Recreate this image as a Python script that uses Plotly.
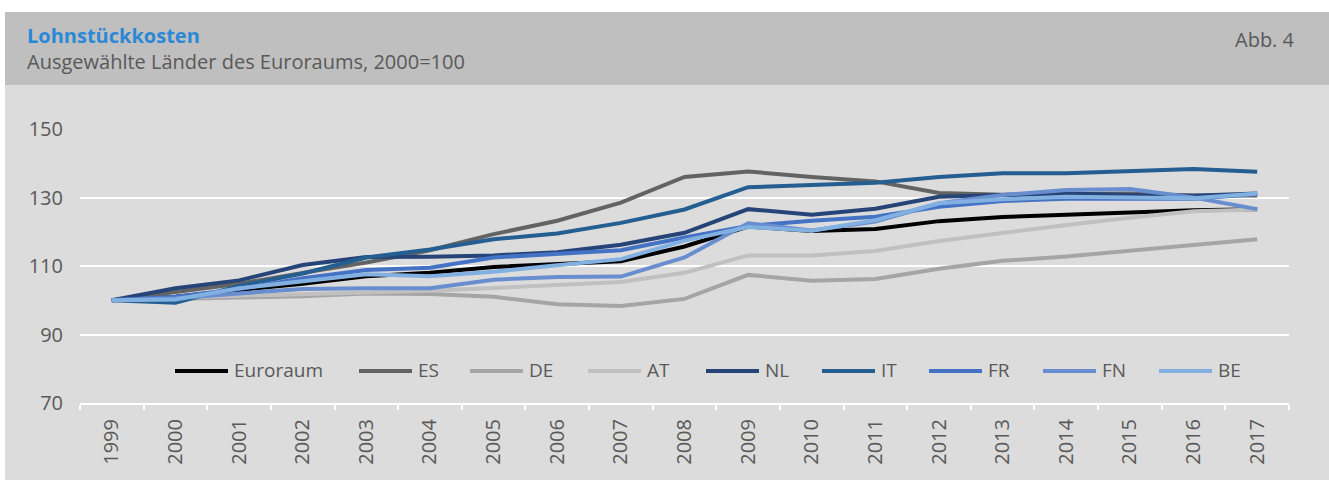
import plotly.graph_objects as go

# ---------------- data ----------------
years = ["1999", "2000", "2001", "2002", "2003", "2004", "2005", "2006", "2007", "2008",
         "2009", "2010", "2011", "2012", "2013", "2014", "2015", "2016", "2017"]

euroraum = [100, 101, 103, 104.8, 107, 108, 109.7, 110.6, 111.4, 115.7,
            121.5, 120.2, 120.8, 123.1, 124.3, 125, 125.6, 126.3, 126.6]
es = [100, 102.3, 104.8, 108, 111, 114.6, 119.3, 123.2, 128.5, 136,
      137.6, 136, 134.7, 131.3, 130.8, 131, 131.2, 130.6, 130.6]
de = [100, 100.5, 100.8, 101.2, 102, 101.8, 101, 98.8, 98.3, 100.4,
      107.4, 105.7, 106.2, 109.2, 111.5, 112.8, 114.5, 116, 117.8]
at = [100, 100.8, 101.3, 101.8, 102.5, 102.8, 103.6, 104.4, 105.3, 108,
      113.1, 113.1, 114.4, 117.3, 119.7, 122, 124.1, 126, 126.5]
nl = [100, 103.5, 105.8, 110.3, 112.6, 112.7, 113.1, 114, 116.2, 119.7,
      126.6, 125, 126.7, 130.2, 130.7, 131.2, 130.7, 130.5, 131.2]
it = [100, 99.3, 104.2, 107.8, 112.5, 114.8, 117.8, 119.5, 122.6, 126.5,
      133, 133.7, 134.3, 136, 137.1, 137.1, 137.7, 138.3, 137.5]
fr = [100, 101, 103.3, 106.4, 108.8, 109.5, 112.5, 113.5, 114.6, 118.3,
      121.7, 123.2, 124.4, 127.3, 129, 129.6, 129.6, 129.6, 131]
fn = [100, 100.6, 102, 103.3, 103.5, 103.5, 106, 106.8, 106.9, 112.5,
      122.5, 120.4, 123, 128.3, 130.7, 132.2, 132.5, 130, 126.6]
be = [100, 100.2, 103.5, 105.5, 107.6, 107, 108.3, 110.2, 112, 117.4,
      121.4, 120.3, 123.4, 128.3, 129.5, 130.2, 130, 129.8, 131.2]

series_names = ["Euroraum", "ES", "DE", "AT", "NL", "IT", "FR", "FN", "BE"]
series_values = [euroraum, es, de, at, nl, it, fr, fn, be]

title_text = "Lohnstückkosten"
subtitle_text = "Ausgewählte Länder des Euroraums, 2000=100"
fig_label = "Abb. 4"

# ---------------- styling ----------------
colors = ["#000000", "#636363", "#a5a5a5", "#c0c0c0", "#264478",
          "#255e91", "#4472c4", "#698ed0", "#82b1e1"]
legend_x_px = [175, 359, 470, 588, 706, 822, 929, 1043, 1159]
legend_y_px = 371

W, H = 1329, 480
L, R, T, B = 80, 40, 129, 77
PW = W - L - R
PH = H - T - B
FONT = "Open Sans"
TXT = "#595959"


def px_x(px):
    return (px - L) / PW


def px_y(py):
    return (H - B - py) / PH


fig = go.Figure()
for name, vals, col in zip(series_names, series_values, colors):
    fig.add_trace(go.Scatter(x=years, y=vals, mode="lines", name=name,
                             line=dict(color=col, width=4), showlegend=False))

shapes = [
    # white top strip & left strip
    dict(type="rect", xref="paper", yref="paper", x0=px_x(0), x1=px_x(W),
         y0=px_y(0), y1=px_y(12), fillcolor="white", line_width=0, layer="below"),
    dict(type="rect", xref="paper", yref="paper", x0=px_x(0), x1=px_x(5),
         y0=px_y(0), y1=px_y(H), fillcolor="white", line_width=0, layer="below"),
    # header band
    dict(type="rect", xref="paper", yref="paper", x0=px_x(5), x1=px_x(W),
         y0=px_y(12), y1=px_y(85), fillcolor="#bfbfbf", line_width=0, layer="below"),
]
annotations = [
    dict(text="<b>" + title_text + "</b>", xref="paper", yref="paper",
         x=px_x(25), y=px_y(35.5), xanchor="left", yanchor="middle", showarrow=False,
         font=dict(family=FONT, size=20, color="#2a88d6")),
    dict(text=subtitle_text, xref="paper", yref="paper",
         x=px_x(25), y=px_y(61.5), xanchor="left", yanchor="middle", showarrow=False,
         font=dict(family=FONT, size=20, color=TXT)),
    dict(text=fig_label, xref="paper", yref="paper",
         x=px_x(1297), y=px_y(39), xanchor="right", yanchor="middle", showarrow=False,
         font=dict(family=FONT, size=20, color=TXT)),
]

# manual legend
for name, col, lx in zip(series_names, colors, legend_x_px):
    shapes.append(dict(type="line", xref="paper", yref="paper",
                       x0=px_x(lx), x1=px_x(lx + 53), y0=px_y(legend_y_px), y1=px_y(legend_y_px),
                       line=dict(color=col, width=4)))
    annotations.append(dict(text=name, xref="paper", yref="paper",
                            x=px_x(lx + 57), y=px_y(legend_y_px - 1), xanchor="left",
                            yanchor="middle", showarrow=False,
                            font=dict(family=FONT, size=19, color=TXT)))

fig.update_layout(
    width=W, height=H,
    margin=dict(l=L, r=R, t=T, b=B, pad=0),
    paper_bgcolor="#dcdcdc", plot_bgcolor="#dcdcdc",
    font=dict(family=FONT, color=TXT, size=20),
    showlegend=False,
    shapes=shapes, annotations=annotations,
    xaxis=dict(type="category", range=[-0.5, 18.5], tickangle=-90,
               tickson="boundaries", ticks="outside", ticklen=5, tickwidth=2,
               tickcolor="white", showline=True, linecolor="white", linewidth=2,
               showgrid=False, zeroline=False, ticklabelstandoff=6,
               tickfont=dict(family=FONT, size=20, color=TXT)),
    yaxis=dict(range=[70, 150], tick0=70, dtick=20, showgrid=True, gridcolor="white",
               gridwidth=2, showline=False, zeroline=False, ticks="",
               ticklabelstandoff=16,
               tickfont=dict(family=FONT, size=20, color=TXT)),
)

fig.write_html("out.html",
               config={"displayModeBar": False},
               post_script="document.body.style.margin='0';document.body.style.overflow='hidden';")
